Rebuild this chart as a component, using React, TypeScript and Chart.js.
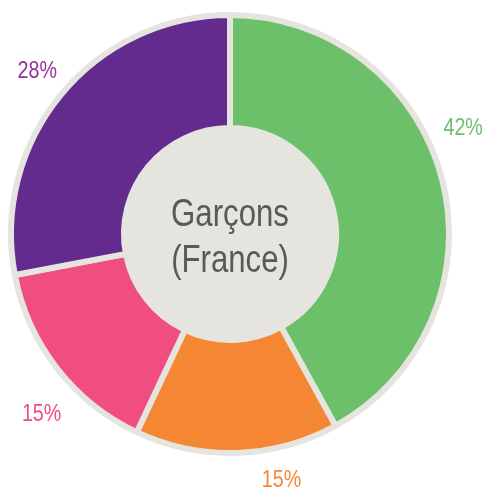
import React, { useEffect, useRef } from "react";
import { Chart, registerables } from "chart.js";

Chart.register(...registerables);

const categories = ["Vert", "Orange", "Rose", "Violet"];
const values = [42, 15, 15, 28];
const labelsText = ["42%", "15%", "15%", "28%"];
const segmentColors = ["#6cc06a", "#f58634", "#f04e80", "#632b8e"];
const labelColors = ["#6cc06a", "#f58634", "#f04e80", "#982d9e"];
const centerLines = ["Garçons", "(France)"];

const FONT = "'Liberation Sans', Arial, sans-serif";
const NARROW = 0.82;
const GREY = "#e6e4df";

function narrowText(ctx: CanvasRenderingContext2D, text: string, x: number, y: number) {
  ctx.save();
  ctx.translate(x, y);
  ctx.scale(NARROW, 1);
  ctx.fillText(text, 0, 0);
  ctx.restore();
}

const centerPlugin = {
  id: "centerCircle",
  afterDatasetsDraw(chart: any) {
    const meta = chart.getDatasetMeta(0);
    const arc = meta.data[0];
    if (!arc) return;
    const { x, y, innerRadius } = arc.getProps(["x", "y", "innerRadius"], true);
    const ctx = chart.ctx;
    ctx.save();
    ctx.beginPath();
    ctx.arc(x, y, innerRadius + 1, 0, Math.PI * 2);
    ctx.fillStyle = GREY;
    ctx.fill();
    ctx.fillStyle = "#595959";
    ctx.font = `38px ${FONT}`;
    ctx.textAlign = "center";
    ctx.textBaseline = "alphabetic";
    narrowText(ctx, centerLines[0], x, y - 8);
    narrowText(ctx, centerLines[1], x, y + 38);
    ctx.restore();
  },
};

const outsideLabels = {
  id: "outsideLabels",
  afterDraw(chart: any, _args: any, opts: any) {
    const meta = chart.getDatasetMeta(0);
    const ctx = chart.ctx;
    ctx.save();
    ctx.font = `24px ${FONT}`;
    ctx.textAlign = "center";
    ctx.textBaseline = "middle";
    meta.data.forEach((el: any, i: number) => {
      const { x, y, startAngle, endAngle } = el.getProps(["x", "y", "startAngle", "endAngle"], true);
      const mid = (startAngle + endAngle) / 2 + ((opts.angleShift[i] || 0) * Math.PI) / 180;
      const r = opts.radius[i];
      ctx.fillStyle = labelColors[i];
      narrowText(ctx, labelsText[i], x + r * Math.cos(mid), y + r * Math.sin(mid));
    });
    ctx.restore();
  },
};

export default function App() {
  const ref = useRef<HTMLCanvasElement>(null);
  useEffect(() => {
    if (!ref.current) return;
    const chart = new Chart(ref.current, {
      type: "doughnut",
      data: {
        labels: categories,
        datasets: [
          {
            data: values,
            backgroundColor: segmentColors,
            borderColor: GREY,
            borderWidth: 6,
            hoverOffset: 0,
          },
        ],
      },
      options: {
        animation: false,
        responsive: true,
        maintainAspectRatio: false,
        cutout: "48.4%",
        layout: { padding: { left: 8, right: 34, top: 12, bottom: 37 } },
        plugins: {
          legend: { display: false },
          tooltip: { enabled: false },
          outsideLabels: { angleShift: [-10, -10, -6, 0.5], radius: [256, 252, 261, 252] },
        } as any,
      },
      plugins: [centerPlugin, outsideLabels],
    });
    return () => chart.destroy();
  }, []);
  return (
    <div style={{ position: "fixed", left: 0, top: 0, width: 486, height: 493, background: "#fff" }}>
      <canvas ref={ref} />
    </div>
  );
}
